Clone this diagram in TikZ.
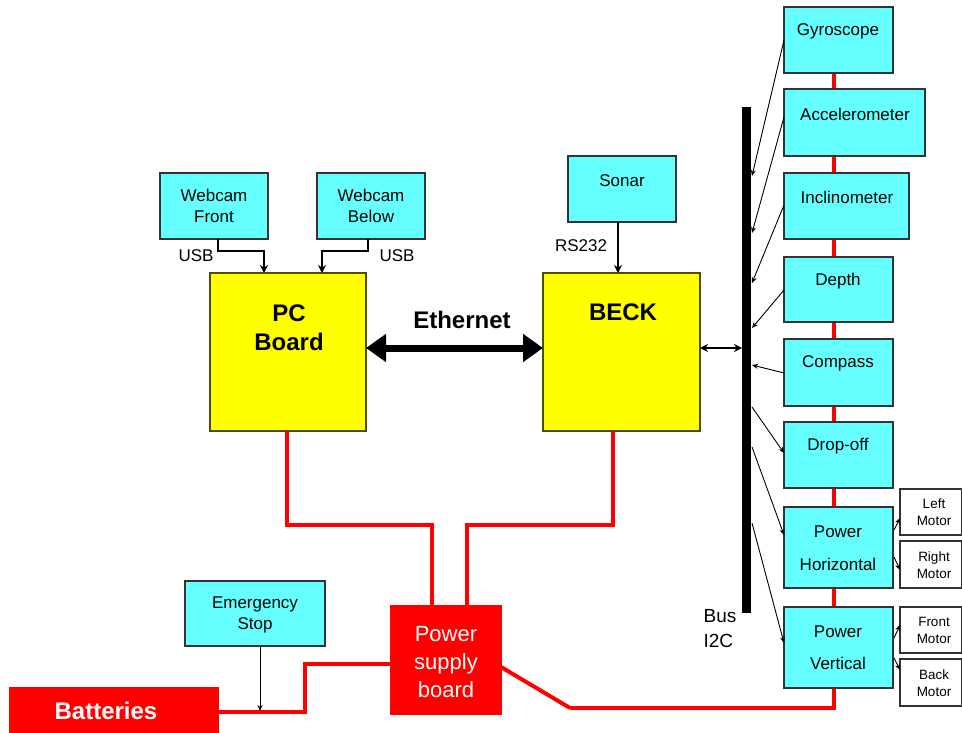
\documentclass[tikz,border=0pt]{standalone}
\usepackage{fontspec}
\setmainfont{Liberation Sans}
\usetikzlibrary{arrows.meta}
\definecolor{cy}{HTML}{66FFFF}
\definecolor{ye}{HTML}{FFFF00}
\definecolor{rd}{HTML}{FF0000}
\definecolor{bd}{HTML}{333333}
\definecolor{ol}{HTML}{4D4D00}
\tikzset{
  bx/.style={anchor=north west, inner sep=0pt, outer sep=0pt, line width=1.2pt},
  cybox/.style={bx, draw=bd, fill=cy},
  yebox/.style={bx, draw=ol, fill=ye},
  rdbox/.style={bx, draw=rd, fill=rd},
  wbox/.style={bx, draw=bd, fill=white},
  txt/.style={inner sep=0pt, align=center, font=\fontsize{17}{21}\selectfont},
  big/.style={inner sep=0pt, align=center, font=\fontsize{24}{29}\selectfont\bfseries},
  small/.style={inner sep=0pt, align=center, font=\fontsize{13.5}{17}\selectfont},
  pw/.style={draw=rd, line width=4pt},
  thin/.style={draw=black, line width=0.9pt, -{Stealth[length=6pt,width=5pt]}},
}
\begin{document}
\begin{tikzpicture}[x=1pt,y=-1pt]
\useasboundingbox (0,0) rectangle (962,733);
% red power lines between sensor boxes (drawn first)
\coordinate (rtop) at (834,73);
\coordinate (rbot) at (834,708);
\coordinate (rturn) at (570,708);
\draw[pw] (rtop) -- (rbot) -- (rturn);
% sensor boxes
\node[cybox, minimum width=109, minimum height=66] (gyro) at (784,7) {};
\node[cybox, minimum width=141, minimum height=67] (acc) at (784,89) {};
\node[cybox, minimum width=125, minimum height=66] (incl) at (784,173) {};
\node[cybox, minimum width=109, minimum height=65] (depth) at (784,257) {};
\node[cybox, minimum width=109, minimum height=67] (comp) at (784,339) {};
\node[cybox, minimum width=109, minimum height=66] (drop) at (784,422) {};
\node[cybox, minimum width=109, minimum height=81] (ph) at (784,507) {};
\node[cybox, minimum width=109, minimum height=81] (pv) at (784,607) {};
\node[txt] at (838,31) {Gyroscope};
\node[txt] at (855,114) {Accelerometer};
\node[txt] at (847,197) {Inclinometer};
\node[txt] at (838,281) {Depth};
\node[txt] at (838,363) {Compass};
\node[txt] at (838,446) {Drop-off};
\node[txt] at (838,532) {Power};
\node[txt] at (838,564) {Horizontal};
\node[txt] at (838,632) {Power};
\node[txt] at (838,663) {Vertical};
% motor boxes
\node[wbox, minimum width=62, minimum height=46] (lm) at (900,489) {};
\node[wbox, minimum width=62, minimum height=47] (rm) at (900,541) {};
\node[wbox, minimum width=62, minimum height=46] (fm) at (900,607) {};
\node[wbox, minimum width=62, minimum height=47] (bm) at (900,659) {};
\node[small] at (934,512) {Left\\Motor};
\node[small] at (934,565) {Right\\Motor};
\node[small] at (934,630) {Front\\Motor};
\node[small] at (934,683) {Back\\Motor};
\draw[thin] (894,530) -- (lm.west |- 0,518);
\draw[thin] (894,557) -- (rm.west |- 0,570);
\draw[thin] (894,638) -- (fm.west |- 0,625);
\draw[thin] (894,658) -- (bm.west |- 0,670);
% bus
\node[bx, fill=black, minimum width=9, minimum height=506] (bus) at (742,107) {};
\node[inner sep=0pt, align=left, font=\fontsize{19}{25}\selectfont] at (720,629) {Bus\\I2C};
\coordinate (b1) at (752,176);
\coordinate (b2) at (752,233);
\coordinate (b3) at (752,283);
\coordinate (b4) at (752,328);
\coordinate (b5) at (752,365);
\coordinate (b6) at (752,407);
\coordinate (b7) at (752,447);
\coordinate (b8) at (752,523);
\draw[thin] (gyro.west) -- (b1);
\draw[thin] (784,117) -- (b2);
\draw[thin] (784,205) -- (b3);
\draw[thin] (784,290) -- (b4);
\draw[thin] (784,373) -- (b5);
\draw[thin] (b6) -- (784,453);
\draw[thin] (b7) -- (784,535);
\draw[thin] (b8) -- (784,643);
% PC board and BECK
\node[yebox, minimum width=156, minimum height=158] (pc) at (210,273) {};
\node[yebox, minimum width=157, minimum height=158] (beck) at (543,273) {};
\node[big] at (289,328) {PC\\Board};
\node[big] at (623,312) {BECK};
\draw[line width=7pt, {Triangle[length=20pt,width=27pt]}-{Triangle[length=20pt,width=27pt]}] (pc.east |- 0,348) -- (beck.west |- 0,348);
\node[big] at (462,320) {Ethernet};
\draw[line width=2pt, {Stealth[length=8pt,width=8pt]}-{Stealth[length=8pt,width=8pt]}] (beck.east |- 0,348) -- (bus.west |- 0,348);
% webcams
\node[cybox, minimum width=108, minimum height=66] (wf) at (160,173) {};
\node[cybox, minimum width=108, minimum height=66] (wb) at (317,173) {};
\node[txt] at (214,206) {Webcam\\Front};
\node[txt] at (371,206) {Webcam\\Below};
\draw[line width=2pt, -{Stealth[length=8pt,width=8pt]}] (wf.south -| 218,0) -- (218,251) -- (264,251) -- (pc.north -| 264,0);
\draw[line width=2pt, -{Stealth[length=8pt,width=8pt]}] (wb.south -| 368,0) -- (368,251) -- (322,251) -- (pc.north -| 322,0);
\node[txt] at (196,256) {USB};
\node[txt] at (397,256) {USB};
% sonar
\node[cybox, minimum width=108, minimum height=66] (sonar) at (568,156) {};
\node[txt] at (622,181) {Sonar};
\draw[line width=2pt, -{Stealth[length=8pt,width=8pt]}] (sonar.south -| 618,0) -- (beck.north -| 618,0);
\node[txt] at (581,246) {RS232};
% power supply
\node[rdbox, minimum width=110, minimum height=108] (psb) at (391,606) {};
\node[inner sep=0pt, align=center, text=white, font=\fontsize{22}{28}\selectfont] at (446,662) {Power\\supply\\board};
\draw[pw] (pc.south -| 287,0) -- (287,525) -- (432,525) -- (psb.north -| 432,0);
\draw[pw] (beck.south -| 613,0) -- (613,525) -- (467,525) -- (psb.north -| 467,0);
\draw[pw] (rturn) -- (psb.east |- 0,667);
% batteries
\node[rdbox, minimum width=208, minimum height=44] (bat) at (10,688) {};
\node[big, text=white] at (106,711) {Batteries};
\draw[pw] (bat.east |- 0,712) -- (305,712) -- (305,664) -- (psb.west |- 0,664);
% emergency stop
\node[cybox, minimum width=140, minimum height=65] (es) at (185,581) {};
\node[txt] at (255,615) {Emergency\\Stop};
\coordinate (esj) at (260,711);
\draw[thin] (es.south -| 260,0) -- (esj);
% red connectors to sensor boxes on top
\end{tikzpicture}
\end{document}
